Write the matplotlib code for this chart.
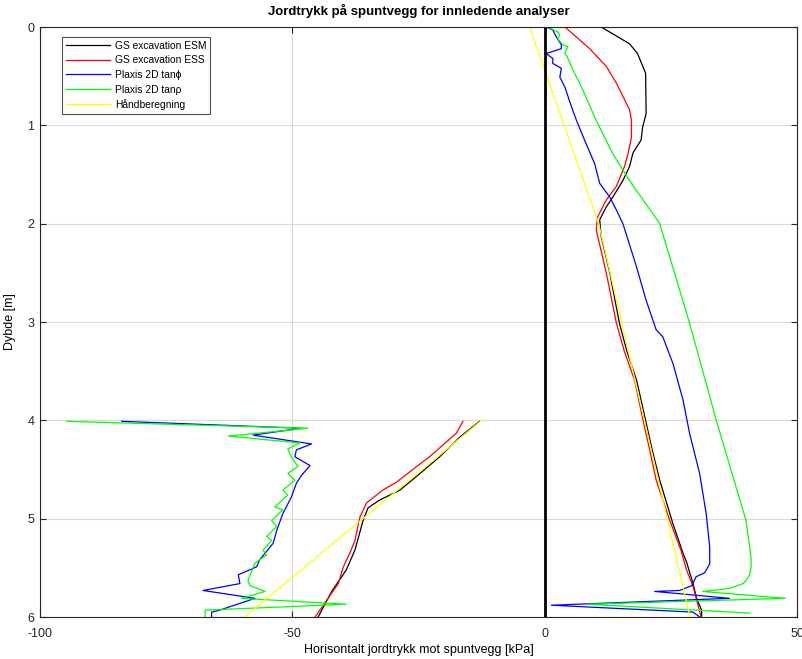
import matplotlib.pyplot as plt

plt.rcParams['font.family'] = ['Liberation Sans', 'DejaVu Sans']
plt.rcParams['axes.unicode_minus'] = False

# GS excavation ESM (black)
esm_depth_r = [0, 0.17, 0.27, 0.47, 0.88, 1.02, 1.15, 1.28, 1.42, 1.56, 1.73, 1.83, 1.96, 2.13,
               2.5, 3.01, 3.3, 3.59, 4.0, 4.3, 4.61, 5.05, 5.35, 5.44, 5.66, 5.81, 5.93, 6.0]
esm_press_r = [11.2, 16.8, 18.4, 20.0, 20.1, 19.4, 19.1, 17.5, 16.8, 15.5, 13.5, 12.2, 10.9, 11.2,
               12.9, 14.8, 16.3, 18.2, 20.0, 21.3, 22.8, 25.4, 27.4, 28.1, 29.4, 30.1, 31.1, 31.1]
esm_depth_l = [4.01, 4.17, 4.37, 4.57, 4.71, 4.81, 4.89, 5.02, 5.32, 5.52, 5.74, 6.0]
esm_press_l = [-12.9, -16.8, -20.8, -25.4, -28.7, -32.7, -35.0, -36.0, -37.6, -39.3, -42.2, -44.9]

# GS excavation ESS (red)
ess_depth_r = [0, 0.13, 0.22, 0.4, 0.57, 0.84, 0.95, 1.12, 1.29, 1.42, 1.62, 1.76, 1.93, 2.06,
               2.5, 3.01, 3.3, 3.59, 4.0, 4.3, 4.61, 5.02, 5.32, 5.52, 5.69, 6.0]
ess_press_r = [4.0, 6.9, 8.9, 12.2, 14.2, 16.8, 17.2, 17.2, 16.5, 15.8, 14.2, 12.2, 10.5, 10.2,
               12.2, 14.2, 15.8, 17.8, 19.5, 20.8, 22.1, 24.8, 27.0, 28.1, 29.4, 31.0]
ess_depth_l = [4.01, 4.13, 4.37, 4.47, 4.63, 4.71, 4.84, 4.98, 5.22, 5.35, 5.49, 5.66, 5.83, 6.0]
ess_press_l = [-16.2, -17.5, -22.8, -25.4, -29.4, -32.1, -35.3, -36.6, -37.6, -38.6, -39.9, -40.9, -43.2, -45.5]

# Plaxis 2D tan phi (blue)
phi_depth_r = [0, 0.03, 0.1, 0.18, 0.22, 0.27, 0.32, 0.37, 0.42, 0.51, 0.61, 0.81, 0.95, 1.15, 1.39,
               1.59, 1.73, 1.86, 2.0, 2.44, 2.78, 3.08, 3.15, 3.42, 3.79, 4.13, 4.54, 4.95, 5.29,
               5.46, 5.55, 5.59, 5.68, 5.73, 5.74, 5.76, 5.81, 5.88, 5.95, 6.0]
phi_press_r = [0.3, 1.6, 2.3, 3.3, 3.3, 0.3, 1.6, 1.6, 3.3, 3.0, 4.0, 5.3, 6.3, 7.9, 9.9,
               10.9, 12.9, 14.2, 15.5, 18.2, 20.1, 22.1, 23.4, 25.4, 27.4, 28.7, 30.7, 32.0, 32.7,
               32.7, 31.7, 30.0, 29.2, 26.7, 21.8, 26.1, 36.6, 1.3, 29.4, 30.7]
phi_depth_l = [4.01, 4.08, 4.15, 4.24, 4.30, 4.37, 4.46, 4.56, 4.64, 4.78, 4.95, 5.12, 5.25, 5.35,
               5.42, 5.49, 5.57, 5.66, 5.73, 5.81, 5.93, 5.95, 6.0]
phi_press_l = [-83.8, -48.2, -57.8, -46.2, -49.2, -49.5, -46.5, -48.2, -49.2, -50.2, -51.9, -53.1,
               -53.8, -55.4, -56.5, -57.1, -60.7, -60.4, -67.7, -57.4, -64.4, -66.0, -66.0]

# Plaxis 2D tan rho (green)
rho_depth_r = [0, 0.05, 0.08, 0.12, 0.18, 0.2, 0.26, 0.32, 0.51, 0.61, 0.95, 1.29, 1.56, 2.0, 3.01,
               4.0, 5.02, 5.4, 5.49, 5.57, 5.63, 5.66, 5.71, 5.74, 5.81, 5.87, 5.96]
rho_press_r = [0.6, 2.6, 3.0, 2.6, 3.6, 4.6, 4.0, 4.6, 6.3, 7.3, 10.2, 13.5, 16.8, 22.8, 28.7,
               34.0, 39.9, 40.9, 40.9, 40.6, 39.9, 39.3, 36.6, 31.3, 47.7, 8.5, 40.6]
rho_depth_l = [4.01, 4.08, 4.16, 4.23, 4.29, 4.37, 4.47, 4.54, 4.61, 4.71, 4.76, 4.88, 4.91, 5.02,
               5.08, 5.18, 5.22, 5.32, 5.37, 5.45, 5.63, 5.68, 5.74, 5.81, 5.87, 5.93, 6.0]
rho_press_l = [-94.7, -46.9, -62.7, -48.5, -50.9, -50.2, -48.9, -50.9, -49.5, -51.9, -50.9, -53.5,
               -51.9, -54.1, -53.1, -55.1, -54.1, -55.8, -55.1, -57.4, -58.8, -58.4, -55.4, -60.1,
               -39.3, -67.3, -67.3]

# Håndberegning (yellow)
hand_depth_r = [0, 2.0, 6.0]
hand_press_r = [-3.0, 10.7, 28.8]
hand_depth_l = [4.0, 6.0]
hand_press_l = [-12.5, -59.5]

fig = plt.figure(figsize=(8.02, 6.59), dpi=100)
ax = fig.add_axes([0.0499, 0.0637, 0.9439, 0.8953])

series = [
    ('GS excavation ESM', 'black', esm_press_r, esm_depth_r, esm_press_l, esm_depth_l),
    ('GS excavation ESS', '#ff0000', ess_press_r, ess_depth_r, ess_press_l, ess_depth_l),
    ('Plaxis 2D tanϕ', '#0000ff', phi_press_r, phi_depth_r, phi_press_l, phi_depth_l),
    ('Plaxis 2D tanρ', '#00ff00', rho_press_r, rho_depth_r, rho_press_l, rho_depth_l),
    ('Håndberegning', '#ffff00', hand_press_r, hand_depth_r, hand_press_l, hand_depth_l),
]

for label, color, xr, yr, xl, yl in series:
    ax.plot(xr, yr, color=color, lw=0.9, label=label)
    ax.plot(xl, yl, color=color, lw=0.9)

# spuntvegg
ax.plot([0, 0], [0, 6], color='black', lw=2)

ax.set_xlim(-100, 50)
ax.set_ylim(6, 0)
ax.set_xticks([-100, -50, 0, 50])
ax.set_yticks(range(7))
ax.grid(True, color='#d9d9d9', lw=0.8)
ax.set_axisbelow(True)
ax.tick_params(direction='in', top=True, right=True, labelsize=9, colors='#262626', length=4)
ax.tick_params(axis='x', pad=8)
ax.tick_params(axis='y', pad=4)
for s in ax.spines.values():
    s.set_color('#262626')
    s.set_linewidth(0.8)

ax.set_title('Jordtrykk på spuntvegg for innledende analyser', fontsize=9.5, fontweight='bold', pad=9)
ax.set_xlabel('Horisontalt jordtrykk mot spuntvegg [kPa]', fontsize=9, labelpad=3)
ax.set_ylabel('Dybde [m]', fontsize=9, labelpad=8)

leg = ax.legend(loc='upper left', bbox_to_anchor=(0.029, 0.983), borderaxespad=0, fontsize=7.4,
                frameon=True, fancybox=False, edgecolor='#262626', handlelength=4.3,
                labelspacing=0.45, borderpad=0.35, handletextpad=0.5)
leg.get_frame().set_linewidth(0.8)

plt.savefig('out.png', dpi=100)
